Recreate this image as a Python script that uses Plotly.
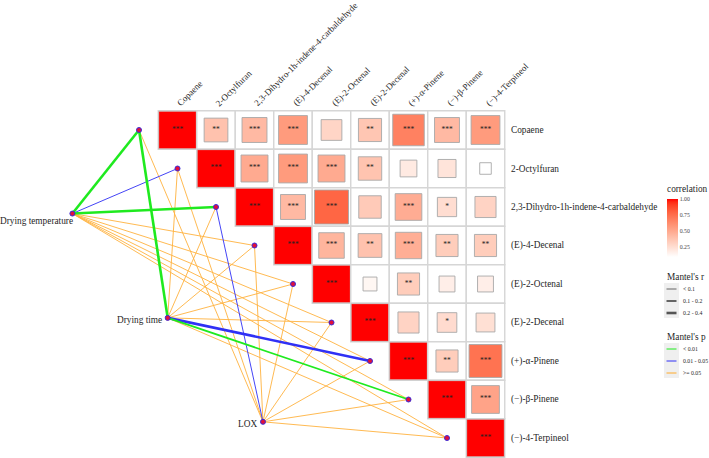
import plotly.graph_objects as go

# ---------------- data ----------------
compounds = ["Copaene", "2-Octylfuran", "2,3-Dihydro-1h-indene-4-carbaldehyde",
             "(E)-4-Decenal", "(E)-2-Octenal", "(E)-2-Decenal",
             "(+)-α-Pinene", "(−)-β-Pinene", "(−)-4-Terpineol"]

# upper-triangle correlations, row i lists columns i+1 .. 8
corr_row0 = [0.38, 0.42, 0.56, 0.29, 0.36, 0.67, 0.42, 0.56]
corr_row1 = [0.49, 0.56, 0.49, 0.37, 0.19, 0.22, 0.09]
corr_row2 = [0.42, 0.78, 0.34, 0.48, 0.25, 0.30]
corr_row3 = [0.44, 0.38, 0.47, 0.33, 0.33]
corr_row4 = [0.13, 0.33, 0.17, 0.17]
corr_row5 = [0.30, 0.26, 0.24]
corr_row6 = [0.33, 0.73]
corr_row7 = [0.52]

sig_row0 = ["**", "***", "***", "", "**", "***", "***", "***"]
sig_row1 = ["***", "***", "***", "**", "", "", ""]
sig_row2 = ["***", "***", "", "***", "*", ""]
sig_row3 = ["***", "**", "***", "**", "**"]
sig_row4 = ["", "**", "", ""]
sig_row5 = ["", "*", ""]
sig_row6 = ["**", "***"]
sig_row7 = ["***"]
diag_sig = "***"

env_names = ["Drying temperature", "Drying time", "LOX"]
mantel_r_temp = [0.31, 0.06, 0.27, 0.05, 0.04, 0.05, 0.04, 0.03, 0.05]
mantel_p_temp = [0.001, 0.03, 0.004, 0.21, 0.35, 0.28, 0.42, 0.55, 0.31]
mantel_r_time = [0.33, 0.04, 0.05, 0.06, 0.04, 0.05, 0.24, 0.16, 0.06]
mantel_p_time = [0.002, 0.38, 0.27, 0.19, 0.44, 0.33, 0.012, 0.006, 0.25]
mantel_r_lox = [0.03, 0.04, 0.07, 0.05, 0.02, 0.04, 0.03, 0.05, 0.04]
mantel_p_lox = [0.52, 0.47, 0.036, 0.29, 0.61, 0.38, 0.45, 0.33, 0.57]

corr_ticks = [1.00, 0.75, 0.50, 0.25]
r_bins_labels = ["< 0.1", "0.1 - 0.2", "0.2 - 0.4"]
p_bins_labels = ["< 0.01", "0.01 - 0.05", ">= 0.05"]

# ---------------- layout constants ----------------
W, H = 709, 458
CELL = 38.5
X0, Y0 = 177.5, 130.0           # pixel centre of cell (0,0)
ENV_ANCHORS = [(-2.73, 2.17), (-0.255, 4.88), (2.22, 7.58)]
ENV_LABEL_SHIFT = [(3, -7), (-4, -2), (-4, -2)]
FONT = "Liberation Serif, Times New Roman, Times, serif"
FS = 9.3
FS_TOP = 9.0
TXT = "#1f1f1f"

corr_rows = [corr_row0, corr_row1, corr_row2, corr_row3, corr_row4, corr_row5, corr_row6, corr_row7]
sig_rows = [sig_row0, sig_row1, sig_row2, sig_row3, sig_row4, sig_row5, sig_row6, sig_row7]
n = len(compounds)


def px2x(px):
    return (px - X0) / CELL


def py2y(py):
    return (py - Y0) / CELL


# ---- Lab interpolation white -> red ----
def _lin(c):
    c = c / 255.0
    return c / 12.92 if c <= 0.04045 else ((c + 0.055) / 1.055) ** 2.4


def _gam(c):
    c = max(0.0, min(1.0, c))
    v = 12.92 * c if c <= 0.0031308 else 1.055 * c ** (1 / 2.4) - 0.055
    return int(round(max(0, min(1, v)) * 255))


def rgb2lab(rgb):
    r, g, b = [_lin(v) for v in rgb]
    X = (0.4124 * r + 0.3576 * g + 0.1805 * b) / 0.95047
    Y = (0.2126 * r + 0.7152 * g + 0.0722 * b)
    Z = (0.0193 * r + 0.1192 * g + 0.9505 * b) / 1.08883
    f = lambda t: t ** (1 / 3) if t > 0.008856 else 7.787 * t + 16 / 116
    fx, fy, fz = f(X), f(Y), f(Z)
    return (116 * fy - 16, 500 * (fx - fy), 200 * (fy - fz))


def lab2rgb(lab):
    L, a, b = lab
    fy = (L + 16) / 116
    fx = fy + a / 500
    fz = fy - b / 200
    fi = lambda t: t ** 3 if t ** 3 > 0.008856 else (t - 16 / 116) / 7.787
    X, Y, Z = fi(fx) * 0.95047, fi(fy), fi(fz) * 1.08883
    r = 3.2406 * X - 1.5372 * Y - 0.4986 * Z
    g = -0.9689 * X + 1.8758 * Y + 0.0415 * Z
    bb = 0.0557 * X - 0.2040 * Y + 1.0570 * Z
    return "rgb(%d,%d,%d)" % (_gam(r), _gam(g), _gam(bb))


LAB_LO = rgb2lab((255, 255, 255))
LAB_HI = rgb2lab((255, 0, 0))


def grad(t):
    t = max(0.0, min(1.0, t))
    return lab2rgb(tuple(LAB_LO[k] + (LAB_HI[k] - LAB_LO[k]) * t for k in range(3)))


all_vals = [v for row in corr_rows for v in row]
CMIN, CMAX = min(all_vals), 1.0


def col_of(v):
    return grad((v - CMIN) / (CMAX - CMIN))


colorscale = [[k / 20, grad(k / 20)] for k in range(21)]

fig = go.Figure()
shapes = []
annotations = []

# ---- grid cells and squares ----
star_x, star_y, star_t = [], [], []
for i in range(n):
    for j in range(i, n):
        shapes.append(dict(type="rect", xref="x", yref="y",
                           x0=j - 0.5, x1=j + 0.5, y0=i - 0.5, y1=i + 0.5,
                           line=dict(color="#D6D6D6", width=1.4), fillcolor="white",
                           layer="below"))
        if i == j:
            v, s = 1.0, diag_sig
        else:
            v, s = corr_rows[i][j - i - 1], sig_rows[i][j - i - 1]
        half = 0.5 * abs(v) ** 0.5
        if i == j:
            half = 0.49
        shapes.append(dict(type="rect", xref="x", yref="y",
                           x0=j - half, x1=j + half, y0=i - half, y1=i + half,
                           line=dict(color="#A8A8A8" if i != j else "#C8C8C8", width=0.9),
                           fillcolor=col_of(v), layer="below"))
        if s:
            star_x.append(j)
            star_y.append(i)
            star_t.append(s)

# ---- mantel edges ----
mantel_r_all = [mantel_r_temp, mantel_r_time, mantel_r_lox]
mantel_p_all = [mantel_p_temp, mantel_p_time, mantel_p_lox]
P_COLORS = ["#1FEA1F", "#3030F5", "#FFAA2A"]
R_WIDTHS = [0.9, 1.8, 2.6]


def p_cat(p):
    return 0 if p < 0.01 else (1 if p < 0.05 else 2)


def r_cat(r):
    return 0 if r < 0.1 else (1 if r < 0.2 else 2)


groups = {}
for e, (ex, ey) in enumerate(ENV_ANCHORS):
    for j in range(n):
        key = (p_cat(mantel_p_all[e][j]), r_cat(mantel_r_all[e][j]))
        xs, ys = groups.setdefault(key, ([], []))
        xs += [ex, j - 1, None]
        ys += [ey, j, None]

for key in sorted(groups.keys(), key=lambda k: (-k[0], k[1])):
    xs, ys = groups[key]
    fig.add_trace(go.Scatter(x=xs, y=ys, mode="lines",
                             line=dict(color=P_COLORS[key[0]], width=R_WIDTHS[key[1]]),
                             opacity=0.9 if key[0] == 2 else 1.0,
                             hoverinfo="skip", showlegend=False))

# ---- nodes ----
node_x = [j - 1 for j in range(n)] + [a[0] for a in ENV_ANCHORS]
node_y = [j for j in range(n)] + [a[1] for a in ENV_ANCHORS]
fig.add_trace(go.Scatter(x=node_x, y=node_y, mode="markers",
                         marker=dict(size=5, color="#E0103A", line=dict(color="#3A2AD8", width=1)),
                         hoverinfo="skip", showlegend=False))

# ---- stars ----
fig.add_trace(go.Scatter(x=star_x, y=star_y, mode="text", text=star_t,
                         textfont=dict(family=FONT, size=7.5, color="#222222"),
                         hoverinfo="skip", showlegend=False))

# ---- colorbar (dummy trace) ----
fig.add_trace(go.Scatter(x=[None], y=[None], mode="markers",
                         marker=dict(color=[CMIN], cmin=CMIN, cmax=CMAX, colorscale=colorscale,
                                     showscale=True,
                                     colorbar=dict(x=667 / W, xanchor="left", xpad=0, ypad=0,
                                                   y=1 - 228 / H, yanchor="middle",
                                                   len=58, lenmode="pixels", thickness=11,
                                                   outlinewidth=0, ticks="",
                                                   tickvals=corr_ticks,
                                                   ticktext=["%.2f" % t for t in corr_ticks],
                                                   tickfont=dict(family=FONT, size=5.8, color="#444"))),
                         hoverinfo="skip", showlegend=False))

# ---- labels ----
for j, name in enumerate(compounds):
    annotations.append(dict(x=j - 0.13, y=-0.5, xref="x", yref="y", text=name,
                            textangle=-45, xanchor="left", yanchor="bottom", showarrow=False,
                            font=dict(family=FONT, size=FS_TOP, color=TXT)))
    annotations.append(dict(x=8.6, y=j, xref="x", yref="y", text=name,
                            xanchor="left", yanchor="middle", showarrow=False,
                            font=dict(family=FONT, size=FS, color=TXT)))

for e, name in enumerate(env_names):
    ex, ey = ENV_ANCHORS[e]
    dx, dy = ENV_LABEL_SHIFT[e]
    annotations.append(dict(x=ex, y=ey, xref="x", yref="y", text=name,
                            xanchor="right", yanchor="middle", xshift=dx, yshift=dy,
                            showarrow=False, font=dict(family=FONT, size=FS, color=TXT)))

# ---- legends ----
def pxa(px, py, text, size, anchor="left"):
    annotations.append(dict(x=px / W, y=1 - py / H, xref="paper", yref="paper", text=text,
                            xanchor=anchor, yanchor="middle", showarrow=False,
                            font=dict(family=FONT, size=size, color=TXT)))


pxa(665, 189, "correlation", FS)
pxa(665, 277, "Mantel's r", FS)
pxa(665, 337, "Mantel's p", FS)

for (top, bot) in [(283, 318), (343, 378)]:
    shapes.append(dict(type="rect", xref="paper", yref="paper",
                       x0=664 / W, x1=679 / W, y0=1 - bot / H, y1=1 - top / H,
                       line=dict(width=0), fillcolor="#EFEFEF"))

for k, lab in enumerate(r_bins_labels):
    yy = 289 + 12 * k
    shapes.append(dict(type="line", xref="paper", yref="paper",
                       x0=666.5 / W, x1=676.5 / W, y0=1 - yy / H, y1=1 - yy / H,
                       line=dict(color="#555555", width=R_WIDTHS[k])))
    pxa(681, yy, lab, 5.8)

for k, lab in enumerate(p_bins_labels):
    yy = 349 + 12 * k
    shapes.append(dict(type="line", xref="paper", yref="paper",
                       x0=666.5 / W, x1=676.5 / W, y0=1 - yy / H, y1=1 - yy / H,
                       line=dict(color=P_COLORS[k], width=1)))
    pxa(681, yy, lab, 5.8)

fig.update_layout(
    width=W, height=H, margin=dict(l=0, r=0, t=0, b=0),
    paper_bgcolor="white", plot_bgcolor="white",
    font=dict(family=FONT),
    xaxis=dict(range=[px2x(0), px2x(W)], visible=False, fixedrange=True),
    yaxis=dict(range=[py2y(H), py2y(0)], visible=False, fixedrange=True),
    shapes=shapes, annotations=annotations, showlegend=False,
)

fig.write_html("out.html", config={"displayModeBar": False},
               post_script="document.body.style.margin='0';document.body.style.overflow='hidden';")
